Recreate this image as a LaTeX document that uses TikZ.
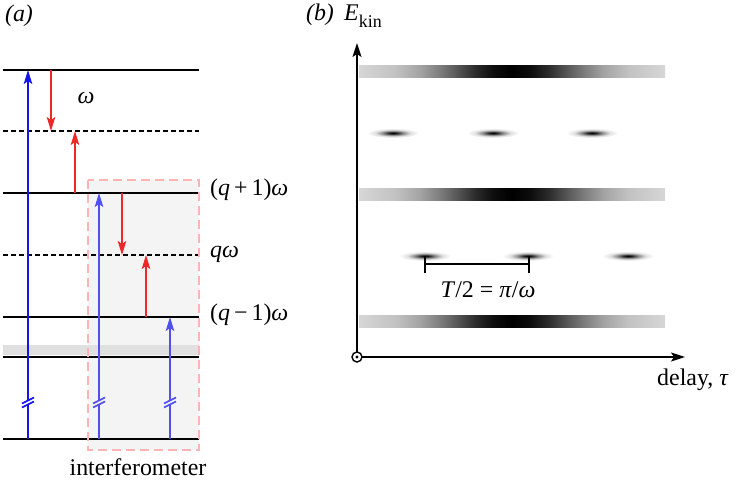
\documentclass[tikz,border=0pt]{standalone}
\usepackage{fontspec}
\setmainfont{Liberation Serif}
\usetikzlibrary{arrows.meta}
\pgfdeclarehorizontalshading{band}{100bp}{color(0bp)=(black!16); color(25bp)=(black!16); color(31bp)=(black!24); color(35bp)=(black!36); color(38bp)=(black!50); color(41bp)=(black!66); color(44bp)=(black!83); color(47bp)=(black!95); color(50bp)=(black); color(53bp)=(black!95); color(56bp)=(black!83); color(59bp)=(black!66); color(62bp)=(black!50); color(65bp)=(black!36); color(69bp)=(black!24); color(75bp)=(black!16); color(100bp)=(black!16)}
\pgfdeclareradialshading{blob}{\pgfpoint{0bp}{0bp}}{color(0bp)=(black); color(4bp)=(black!85); color(10bp)=(black!45); color(17bp)=(black!12); color(25bp)=(white); color(50bp)=(white)}
\definecolor{bluA}{RGB}{20,20,235}
\definecolor{bluB}{RGB}{80,80,240}
\definecolor{redA}{RGB}{238,40,40}
\definecolor{pinkA}{RGB}{255,180,180}
\definecolor{boxfill}{RGB}{244,244,244}
\newcommand\brkmark[2]{%
  \draw[#2,line width=1.6bp] (#1-6,403.5) -- (#1+6,397.5);
  \draw[#2,line width=1.6bp] (#1-6,407.5) -- (#1+6,401.5);}
\begin{document}
\begin{tikzpicture}[x=1bp,y=-1bp,
  txt/.style={inner sep=0pt,font=\fontsize{24}{28}\selectfont},
  lvl/.style={line width=1.6bp,black},
  dlvl/.style={lvl,dash pattern=on 5bp off 3bp},
  tip/.style={-{Stealth[length=14bp,width=8.5bp,inset=3bp]}},
  barrA/.style={line width=1.8bp,bluA},
  barrB/.style={line width=1.8bp,bluB},
  rarr/.style={line width=1.8bp,redA,tip},
  axis/.style={line width=1.6bp,black,-{Stealth[length=14bp,width=9bp,inset=3bp]}}]
\useasboundingbox (0,0) rectangle (738,483);
% ---------- panel (a)
\node[txt] (la) at (19,16) {\textit{(a)}};
\fill[boxfill] (88,180) rectangle (199,450);
\fill[black!12] (3,345) rectangle (199,355);
\draw[lvl] (3,70) -- (199,70);
\draw[dlvl] (3,131) -- (199,131);
\draw[lvl] (3,193) -- (199,193);
\draw[dlvl] (3,255) -- (199,255);
\draw[lvl] (3,317) -- (199,317);
\draw[lvl] (3,357) -- (199,357);
\draw[lvl] (3,439) -- (199,439);
% blue arrows with breaks
\draw[barrA] (28,439) -- (28,404.5);
\draw[barrA,tip] (28,400.5) -- (28,70);
\brkmark{28}{bluA}
\draw[barrB] (99,439) -- (99,404.5);
\draw[barrB,tip] (99,400.5) -- (99,193);
\brkmark{99}{bluB}
\draw[barrB] (170,439) -- (170,404.5);
\draw[barrB,tip] (170,400.5) -- (170,317);
\brkmark{170}{bluB}
% red arrows
\draw[rarr] (51,70) -- (51,131);
\draw[rarr] (75,193) -- (75,131);
\draw[rarr] (122,193) -- (122,255);
\draw[rarr] (146,317) -- (146,255);
\draw[pinkA,line width=2bp,dash pattern=on 9bp off 5bp] (88,180) rectangle (199,450);
\node[txt] (w) at (86,98) {\textit{ω}};
\node[txt,anchor=west] (lq1) at (210,190) {(\textit{q}\,+\,1)\textit{ω}};
\node[txt,anchor=west] (lq) at (210,254) {\textit{qω}};
\node[txt,anchor=west] (lq2) at (210,315) {(\textit{q}\,−\,1)\textit{ω}};
\node[txt] (intf) at (138,467) {interferometer};
% ---------- panel (b)
\node[txt] (lb) at (320,15) {\textit{(b)}};
\shade[shading=band] (359,66) rectangle (665,78);
\shade[shading=band] (359,189) rectangle (665,201);
\shade[shading=band] (359,315) rectangle (665,327);
\foreach \x in {393,493,592} \shade[shading=blob] (\x,133) ellipse [x radius=26, y radius=5];
\foreach \x in {425,528,628} \shade[shading=blob] (\x,256) ellipse [x radius=26, y radius=5];
\coordinate (o) at (357,357);
\draw[line width=1.4bp] (o) circle (5);
\fill (o) circle (1.6);
\coordinate (ytop) at (357,43);
\coordinate (xend) at (685,357);
\draw[axis] (357,352) -- (ytop);
\draw[axis] (362,357) -- (xend);
\node[txt,anchor=base west] (ek) at (344,21) {\textit{E}\raisebox{-7bp}{\fontsize{18}{18}\selectfont kin}};
\node[txt,anchor=base west] (dl) at (657,385) {delay, \textit{τ}};
\coordinate (s1) at (425,264);
\coordinate (s2) at (529,264);
\draw[line width=1.6bp] (s1) -- (s2);
\draw[line width=1.6bp] (425,256) -- (425,273);
\draw[line width=1.6bp] (529,256) -- (529,273);
\node[txt,anchor=base] (tl) at (488,297) {\textit{T}/2 = \textit{π}/\textit{ω}};
\end{tikzpicture}
\end{document}
